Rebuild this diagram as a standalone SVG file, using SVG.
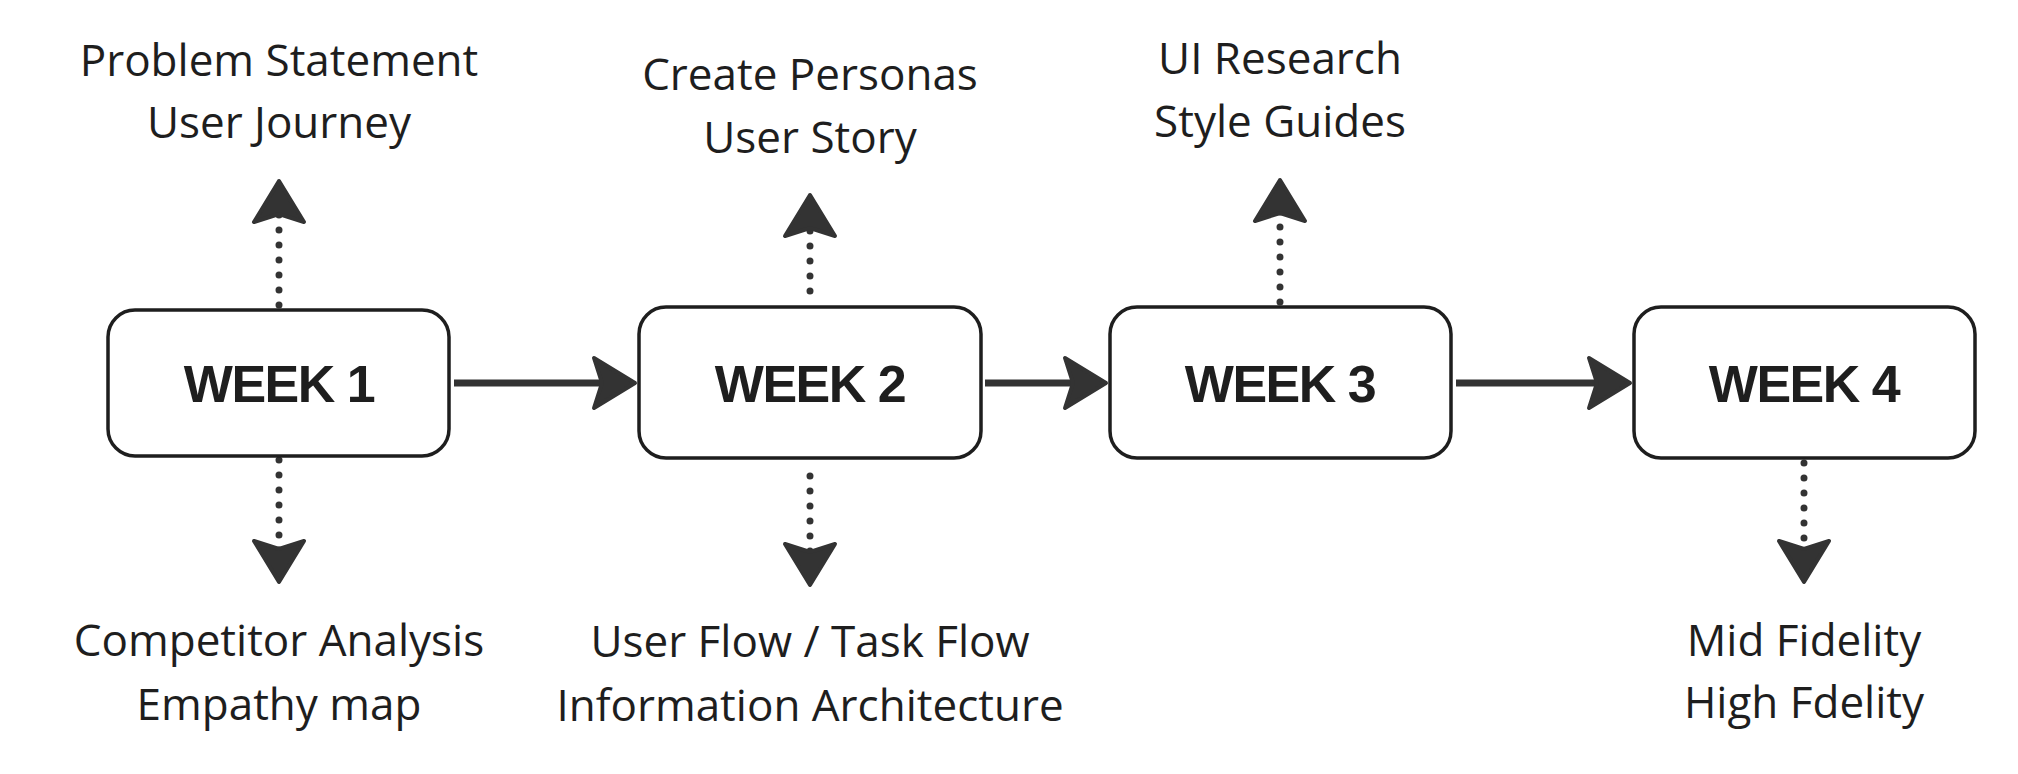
<svg xmlns="http://www.w3.org/2000/svg" width="2018" height="774" viewBox="0 0 2018 774">
<style>
  .box { fill: #ffffff; stroke: #1e1e1e; stroke-width: 3.5; }
  .title { font-family: "Liberation Sans", Arial, sans-serif; font-weight: bold; font-size: 52px; fill: #1e1e1e; text-anchor: middle; letter-spacing: -1.5px; }
  .lbl { font-family: "Open Sans", "Noto Sans", sans-serif; font-size: 44px; fill: #1e1e1e; text-anchor: middle; }
  .solid { fill: none; stroke: #333333; stroke-width: 7; marker-end: url(#head); }
  .dotted { fill: none; stroke: #333333; stroke-width: 7; stroke-linecap: round; stroke-dasharray: 0 15; marker-end: url(#head); }
</style>
<defs>
  <marker id="head" markerUnits="userSpaceOnUse" viewBox="-40 -40 80 80" markerWidth="80" markerHeight="80" refX="0" refY="0" orient="auto" overflow="visible">
    <path d="M15,0 L-26,-25 L-18,0 L-26,25 Z" fill="#333333" stroke="#333333" stroke-width="4" stroke-linejoin="round"/>
  </marker>
</defs>
<rect width="2018" height="774" fill="#ffffff"/>
<g id="connectors">
  <path class="solid" d="M454,383 H620"/>
  <path class="solid" d="M985,383 H1091"/>
  <path class="solid" d="M1456,383 H1615"/>
  <path class="dotted" d="M279,305 V196"/>
  <path class="dotted" d="M279,460 V567"/>
  <path class="dotted" d="M810,291 V210"/>
  <path class="dotted" d="M810,476 V570"/>
  <path class="dotted" d="M1280,302 V195"/>
  <path class="dotted" d="M1804,463 V567"/>
</g>
<g id="week1">
  <rect class="box" x="108" y="310" width="341" height="146" rx="27"/>
  <text class="title" x="279" y="402">WEEK 1</text>
</g>
<g id="week2">
  <rect class="box" x="639" y="307" width="342" height="151" rx="27"/>
  <text class="title" x="810" y="402">WEEK 2</text>
</g>
<g id="week3">
  <rect class="box" x="1110" y="307" width="341" height="151" rx="27"/>
  <text class="title" x="1280" y="402">WEEK 3</text>
</g>
<g id="week4">
  <rect class="box" x="1634" y="307" width="341" height="151" rx="27"/>
  <text class="title" x="1804" y="402">WEEK 4</text>
</g>
<g id="w1-top">
  <text class="lbl" x="279" y="76">Problem Statement</text>
  <text class="lbl" x="279" y="138">User Journey</text>
</g>
<g id="w1-bottom">
  <text class="lbl" x="279" y="656">Competitor Analysis</text>
  <text class="lbl" x="279" y="720">Empathy map</text>
</g>
<g id="w2-top">
  <text class="lbl" x="810" y="90">Create Personas</text>
  <text class="lbl" x="810" y="153">User Story</text>
</g>
<g id="w2-bottom">
  <text class="lbl" x="810" y="657">User Flow / Task Flow</text>
  <text class="lbl" x="810" y="721">Information Architecture</text>
</g>
<g id="w3-top">
  <text class="lbl" x="1280" y="74">UI Research</text>
  <text class="lbl" x="1280" y="137">Style Guides</text>
</g>
<g id="w4-bottom">
  <text class="lbl" x="1804" y="656">Mid Fidelity</text>
  <text class="lbl" x="1804" y="718">High Fdelity</text>
</g>
</svg>
